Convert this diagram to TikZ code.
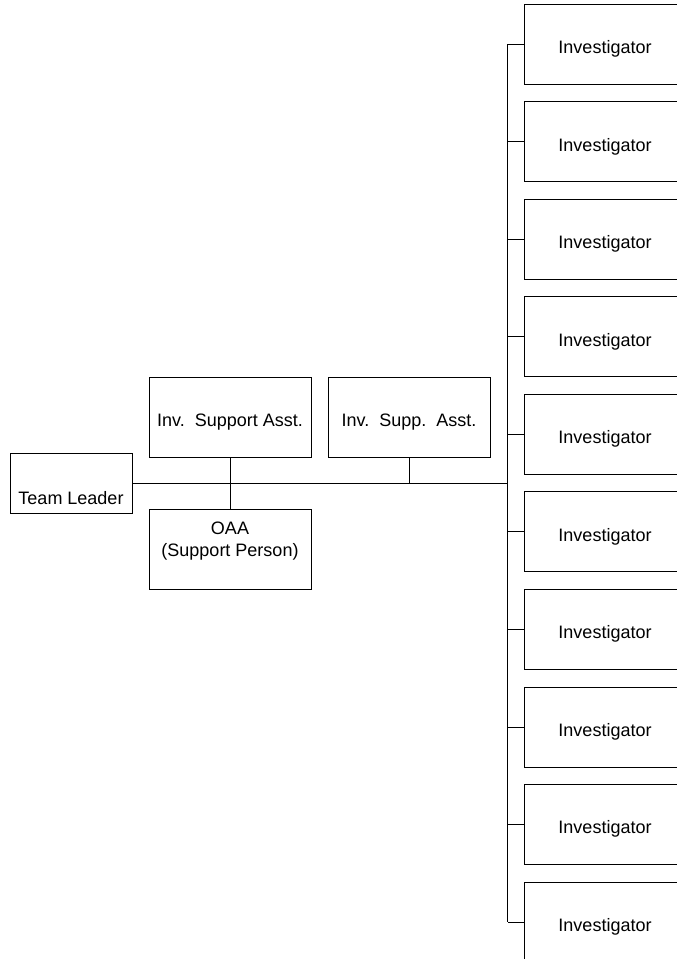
\documentclass[tikz,border=0pt]{standalone}
\usepackage{fontspec}
\setmainfont{Liberation Sans}
\usepackage{tikz}
\usetikzlibrary{calc, positioning}

\begin{document}
\begin{tikzpicture}[x=1pt, y=-1pt, line width=0.8pt,
  font=\fontsize{18}{22}\selectfont,
  box/.style={draw, minimum width=162pt, minimum height=80pt, inner sep=0pt, text height=19pt, text depth=0pt}]
\useasboundingbox (0,0) rectangle (677,959);
\node[draw, minimum width=122pt, minimum height=60pt, inner sep=0pt, text height=42pt, text depth=0pt] (tl) at (71,483.5) {Team Leader};
\node[box] (isa) at (230,417) {Inv.\ \ Support Asst.};
\node[draw, minimum width=162pt, minimum height=80pt, inner sep=0pt, align=center, text depth=19pt] (oaa) at (230,549) {OAA\\(Support Person)};
\node[box] (issa) at (409,417) {Inv.\ \ Supp.\ \ Asst.};
\coordinate (trunk) at (507.5,483.5);
\foreach \i in {0,...,9}
  \node[box] (inv\i) at (605,44+97.56*\i) {Investigator};
\draw (tl.east) -- (tl.east -| trunk);
\draw (isa) -- (oaa);
\draw (issa.south) -- (issa.south |- tl.east);
\draw (inv0.west -| trunk) -- (inv9.west -| trunk);
\foreach \i in {0,...,9}
  \draw (inv\i.west) -- (inv\i.west -| trunk);
\end{tikzpicture}
\end{document}
